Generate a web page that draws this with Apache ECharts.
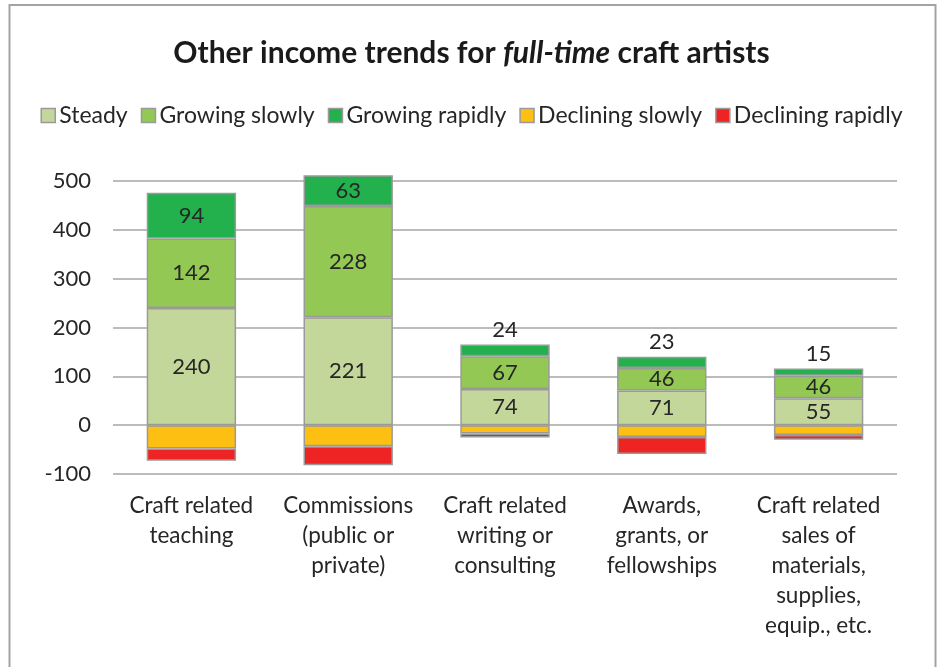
<!DOCTYPE html>
<html>
<head>
<meta charset="utf-8">
<style>
  html, body { margin: 0; padding: 0; background: #fff; }
  #chart { width: 943px; height: 667px; }
</style>
<script src="https://cdn.jsdelivr.net/npm/echarts@6/dist/echarts.min.js"></script>
</head>
<body>
<div id="chart"></div>
<script>
// Income sources
const categories = [
  'Craft related\nteaching',
  'Commissions\n(public or\nprivate)',
  'Craft related\nwriting or\nconsulting',
  'Awards,\ngrants, or\nfellowships',
  'Craft related\nsales of\nmaterials,\nsupplies,\nequip., etc.'
];

// Counts of artists per trend
const steady          = [240, 221, 74, 71, 55];
const growingSlowly   = [142, 228, 67, 46, 46];
const growingRapidly  = [94, 63, 24, 23, 15];
const decliningSlowly = [-48, -43, -17, -24, -20];
const decliningRapidly = [-25, -39, -8, -35, -10];

const yTicks = { min: -100, max: 500, interval: 100 };

const FONT = 'Lato, "Liberation Sans", sans-serif';
const TEXT = '#262626';
const BORDER = '#9a9a9a';

function labelled(values) {
  // small segments get their number above the bar instead of inside it
  return values.map(v => v < 30
    ? { value: v, label: { position: 'top', distance: 4 } }
    : v);
}

function barSeries(name, data, color, showLabel) {
  return {
    name: name,
    type: 'bar',
    stack: 'total',
    barWidth: '57%',
    clip: false,
    data: showLabel ? labelled(data) : data,
    itemStyle: { color: color, borderColor: BORDER, borderWidth: 1.5 },
    label: {
      show: showLabel,
      position: 'inside',
      color: TEXT,
      fontSize: 22,
      fontFamily: FONT
    },
    emphasis: { disabled: true }
  };
}

const chart = echarts.init(document.getElementById('chart'), null, { renderer: 'canvas' });

chart.setOption({
  backgroundColor: '#fff',
  animation: false,
  graphic: [{
    type: 'rect',
    shape: { x: 9.5, y: 5, width: 926, height: 720 },
    style: { fill: 'none', stroke: '#a3a3a3', lineWidth: 2 },
    silent: true,
    z: -1
  }],
  title: {
    left: 'center',
    top: 33,
    text: '{b|Other income trends for }{i|full-time}{b| craft artists}',
    textStyle: {
      rich: {
        b: { fontSize: 30, fontWeight: 'bold', color: '#1a1a1a', fontFamily: FONT },
        i: { fontSize: 30, fontWeight: 'bold', fontStyle: 'italic', color: '#1a1a1a', fontFamily: FONT }
      }
    }
  },
  legend: {
    top: 99,
    left: 'center',
    itemWidth: 14,
    itemHeight: 14,
    itemGap: 13,
    icon: 'rect',
    textStyle: { fontSize: 23, color: TEXT, fontFamily: FONT, padding: [0, 0, 0, -1] },
    itemStyle: { borderColor: BORDER, borderWidth: 1.5 },
    data: ['Steady', 'Growing slowly', 'Growing rapidly', 'Declining slowly', 'Declining rapidly']
  },
  grid: { left: 113, right: 46, top: 181, height: 293 },
  xAxis: {
    type: 'category',
    data: categories,
    axisLine: { show: false },
    axisTick: { show: false },
    axisLabel: {
      interval: 0,
      margin: 17,
      fontSize: 22.5,
      lineHeight: 30,
      color: TEXT,
      fontFamily: FONT,
      verticalAlign: 'top'
    }
  },
  yAxis: {
    type: 'value',
    min: yTicks.min,
    max: yTicks.max,
    interval: yTicks.interval,
    axisLine: { show: false },
    axisTick: { show: false },
    splitLine: { lineStyle: { color: '#a6a6a6', width: 1.5 } },
    axisLabel: { fontSize: 22, color: TEXT, fontFamily: FONT, margin: 22 }
  },
  series: [
    barSeries('Steady', steady, '#c4d79b', true),
    barSeries('Growing slowly', growingSlowly, '#92c853', true),
    barSeries('Growing rapidly', growingRapidly, '#22b14c', true),
    barSeries('Declining slowly', decliningSlowly, '#fcbf12', false),
    barSeries('Declining rapidly', decliningRapidly, '#ee2324', false)
  ]
});
</script>
</body>
</html>
